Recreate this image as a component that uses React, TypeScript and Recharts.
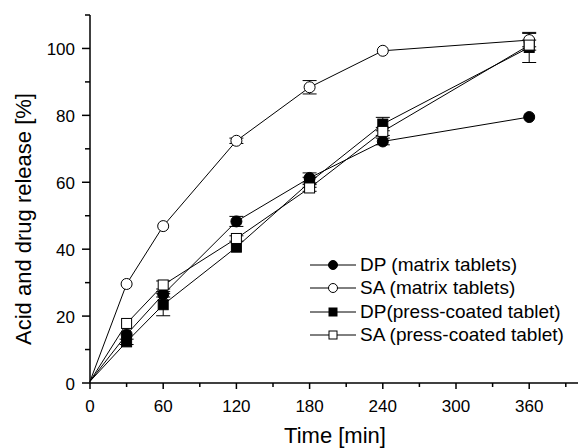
import { LineChart, Line, XAxis, YAxis, ErrorBar, Label } from 'recharts'

const times = [0, 30, 60, 120, 180, 240, 360]
const dpMatrix = [0.5, 14.5, 26.5, 48.3, 61.3, 72.2, 79.5]
const saMatrix = [0.5, 29.6, 46.9, 72.4, 88.4, 99.3, 102.5]
const dpPress = [0.5, 12.3, 23.4, 40.6, 60.0, 77.4, 100.3]
const saPress = [0.5, 17.8, 29.3, 43.2, 58.3, 75.2, 101.0]
const dpMatrixErr = [undefined, undefined, 0.8, 1.5, 1.5, 1, undefined]
const saMatrixErr = [undefined, undefined, undefined, 0.8, 2, undefined, 2]
const dpPressErr = [undefined, 0.8, 3.3, undefined, 1.5, 2, 4.5]
const saPressErr = [undefined, undefined, 1.2, 0.8, 1, 1.2, 1.5]

const xTicks = [0, 30, 60, 90, 120, 150, 180, 210, 240, 270, 300, 330, 360, 390]
const yTicks = [0, 10, 20, 30, 40, 50, 60, 70, 80, 90, 100, 110]

const legendItems = [
  { name: 'DP (matrix tablets)', shape: 'circle', filled: true },
  { name: 'SA (matrix tablets)', shape: 'circle', filled: false },
  { name: 'DP(press-coated tablet)', shape: 'square', filled: true },
  { name: 'SA (press-coated tablet)', shape: 'square', filled: false },
]

const data = times.map((t, i) => ({
  t,
  dpm: dpMatrix[i], sam: saMatrix[i], dpp: dpPress[i], sap: saPress[i],
  dpmErr: dpMatrixErr[i], samErr: saMatrixErr[i], dppErr: dpPressErr[i], sapErr: saPressErr[i],
}))

const font = '"Liberation Sans", Arial, sans-serif'

function makeDot(shape: string, filled: boolean) {
  return (p: any) => {
    const { cx, cy, index, payload } = p
    if (payload.t === 0) return <g key={index} />
    const fill = filled ? '#000' : '#fff'
    if (shape === 'circle') {
      return <circle key={index} cx={cx} cy={cy} r={5.5} fill={fill} stroke="#000" strokeWidth={1} />
    }
    return <rect key={index} x={cx - 5} y={cy - 5} width={10} height={10} fill={fill} stroke="#000" strokeWidth={1} />
  }
}

const XTick = (p: any) => {
  const { x, y, payload } = p
  const major = payload.value % 60 === 0
  return (
    <g>
      <line x1={x} x2={x} y1={y} y2={y + (major ? 6 : 4)} stroke="#000" strokeWidth={1.5} />
      {major && (
        <text x={x} y={y + 29} textAnchor="middle" fontSize={17} fontFamily={font} fill="#000">
          {payload.value}
        </text>
      )}
    </g>
  )
}

const YTick = (p: any) => {
  const { x, y, payload } = p
  const major = payload.value % 20 === 0
  return (
    <g>
      <line x1={x} x2={x - (major ? 8 : 5)} y1={y} y2={y} stroke="#000" strokeWidth={1.5} />
      {major && (
        <text x={x - 15} y={y + 7} textAnchor="end" fontSize={17} fontFamily={font} fill="#000">
          {payload.value}
        </text>
      )}
    </g>
  )
}

function LegendMarker({ shape, filled }: { shape: string; filled: boolean }) {
  const fill = filled ? '#000' : '#fff'
  return (
    <svg width={46} height={14} style={{ display: 'block' }}>
      <line x1={0} x2={46} y1={7} y2={7} stroke="#000" strokeWidth={1} />
      {shape === 'circle'
        ? <circle cx={23} cy={7} r={4.5} fill={fill} stroke="#000" />
        : <rect x={19} y={3} width={8} height={8} fill={fill} stroke="#000" />}
    </svg>
  )
}

export default function App() {
  return (
    <div style={{ position: 'absolute', left: 0, top: 0, width: 578, height: 448, background: '#fff' }}>
      <LineChart width={578} height={448} data={data} margin={{ top: 15, right: 0, left: 0, bottom: 0 }}>
        <XAxis
          dataKey="t"
          type="number"
          domain={[0, 400]}
          ticks={xTicks}
          height={65}
          tickSize={0}
          tickMargin={0}
          tickLine={false}
          tick={XTick}
          interval={0}
          axisLine={{ stroke: '#000', strokeWidth: 1.5 }}
        >
          <Label
            content={() => (
              <text x={335} y={443} textAnchor="middle" fontSize={22} fontFamily={font} fill="#000">
                Time [min]
              </text>
            )}
          />
        </XAxis>
        <YAxis
          type="number"
          domain={[0, 110]}
          ticks={yTicks}
          width={90}
          tickSize={0}
          tickMargin={0}
          tickLine={false}
          tick={YTick}
          interval={0}
          axisLine={{ stroke: '#000', strokeWidth: 1.5 }}
        >
          <Label
            content={() => (
              <text x={31} y={219} transform="rotate(-90 31 219)" textAnchor="middle" fontSize={22} fontFamily={font} fill="#000">
                Acid and drug release [%]
              </text>
            )}
          />
        </YAxis>
        <Line dataKey="dpm" type="linear" stroke="#000" strokeWidth={1} dot={makeDot('circle', true)} isAnimationActive={false}>
          <ErrorBar dataKey="dpmErr" width={7} stroke="#000" strokeWidth={1} direction="y" />
        </Line>
        <Line dataKey="sam" type="linear" stroke="#000" strokeWidth={1} dot={makeDot('circle', false)} isAnimationActive={false}>
          <ErrorBar dataKey="samErr" width={7} stroke="#000" strokeWidth={1} direction="y" />
        </Line>
        <Line dataKey="dpp" type="linear" stroke="#000" strokeWidth={1} dot={makeDot('square', true)} isAnimationActive={false}>
          <ErrorBar dataKey="dppErr" width={7} stroke="#000" strokeWidth={1} direction="y" />
        </Line>
        <Line dataKey="sap" type="linear" stroke="#000" strokeWidth={1} dot={makeDot('square', false)} isAnimationActive={false}>
          <ErrorBar dataKey="sapErr" width={7} stroke="#000" strokeWidth={1} direction="y" />
        </Line>
      </LineChart>
      <div style={{ position: 'absolute', left: 310, top: 253, fontFamily: font, fontSize: 19, color: '#000' }}>
        {legendItems.map(it => (
          <div key={it.name} style={{ display: 'flex', alignItems: 'center', height: 23.5, whiteSpace: 'nowrap' }}>
            <LegendMarker shape={it.shape} filled={it.filled} />
            <span style={{ marginLeft: 4 }}>{it.name}</span>
          </div>
        ))}
      </div>
    </div>
  )
}
